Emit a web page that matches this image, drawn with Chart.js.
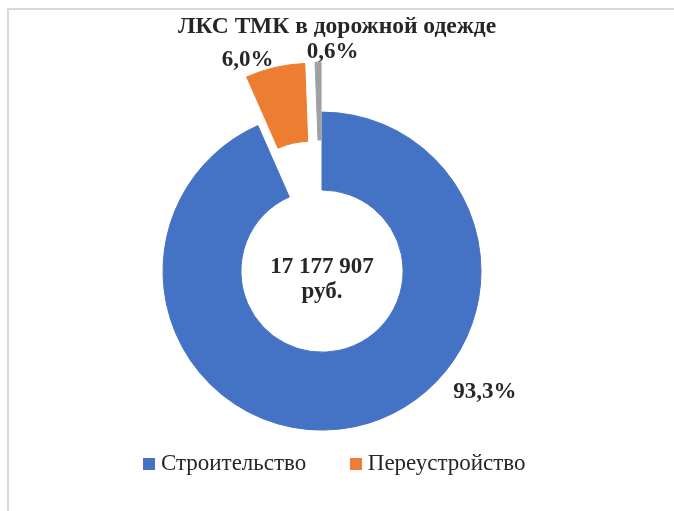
<!DOCTYPE html>
<html lang="ru">
<head>
<meta charset="utf-8">
<title>ЛКС ТМК в дорожной одежде</title>
<script src="https://cdn.jsdelivr.net/npm/chart.js@4.4.1/dist/chart.umd.min.js"></script>
<style>
  html, body { margin: 0; padding: 0; background: #fff; }
  #wrap { position: relative; width: 674px; height: 511px; overflow: hidden; }
  #frame { position: absolute; left: 7px; top: 8px; width: 720px; height: 560px;
           border: 2px solid #d9d9d9; box-sizing: border-box; }
  #lksChart { position: absolute; left: 0; top: 0; }
</style>
</head>
<body>
<div id="wrap">
  <div id="frame"></div>
  <canvas id="lksChart" width="674" height="511"></canvas>
</div>
<script>
// ЛКС ТМК в дорожной одежде, доли в %
var categories = ['Строительство', 'Переустройство', ''];
var shares = [93.3, 6.0, 0.6];
var totalRub = 17177907;

var colours = ['#4472C4', '#ED7D31', '#A0A0A0'];
// how far each slice is pulled out of the ring, px
var explode = [0, 50, 50];
// where the % labels sit: degrees clockwise from 12 o'clock, px from the centre
var labelAngle = [126.6, -19.4, 2.75];
var labelDist = [203, 224, 219];

var serif = '"Liberation Serif", "Times New Roman", serif';
var textColour = '#262626';

function fmtPct(v) {
    return v.toFixed(1).replace('.', ',') + '%';
}
function fmtRub(v) {
    return String(v).replace(/\B(?=(\d{3})+(?!\d))/g, ' ');
}

// small square for the legend; drawn as a point style so the text can sit closer
function swatch(colour) {
    var c = document.createElement('canvas');
    c.width = 12;
    c.height = 12;
    var g = c.getContext('2d');
    g.fillStyle = colour;
    g.fillRect(0, 0, 12, 12);
    return c;
}

// pull the small slices out (moves the whole slice, not just its radius)
var explodeSlices = {
    id: 'explodeSlices',
    beforeDatasetDraw: function(chart, args) {
        args.meta.data.forEach(function(arc, i) {
            arc._home = {x: arc.x, y: arc.y};
            var d = explode[i] || 0;
            if (!d) return;
            var mid = (arc.startAngle + arc.endAngle) / 2;
            arc.x += Math.cos(mid) * d;
            arc.y += Math.sin(mid) * d;
        });
    },
    afterDatasetDraw: function(chart, args) {
        args.meta.data.forEach(function(arc) {
            if (arc._home) {
                arc.x = arc._home.x;
                arc.y = arc._home.y;
            }
        });
    }
};

// empty column on the right so the ring sits left of the page centre
var rightGutter = {
    id: 'rightGutter',
    beforeInit: function(chart) {
        Chart.layouts.addBox(chart, {
            position: 'right', weight: 0, fullSize: false, options: {},
            width: 0, height: 0, left: 0, top: 0, right: 0, bottom: 0,
            isHorizontal: function() { return false; },
            update: function(maxWidth, maxHeight) { this.width = 30; this.height = maxHeight; },
            draw: function() {}
        });
    }
};

// % labels and the total in the hole
var sliceLabels = {
    id: 'sliceLabels',
    afterDatasetsDraw: function(chart) {
        var ctx = chart.ctx;
        var arcs = chart.getDatasetMeta(0).data;
        var cx = arcs[0].x, cy = arcs[0].y;
        ctx.save();
        ctx.font = 'bold 23px ' + serif;
        ctx.fillStyle = textColour;
        ctx.textAlign = 'center';
        ctx.textBaseline = 'middle';
        shares.forEach(function(v, i) {
            var a = (labelAngle[i] - 90) * Math.PI / 180;
            ctx.fillText(fmtPct(v), cx + Math.cos(a) * labelDist[i], cy + Math.sin(a) * labelDist[i]);
        });
        ctx.fillText(fmtRub(totalRub), cx, cy - 4);
        ctx.fillText('руб.', cx, cy + 21);
        ctx.restore();
    }
};

var ctx = document.getElementById('lksChart').getContext('2d');
var chart = new Chart(ctx, {
    type: 'doughnut',
    data: {
        labels: categories,
        datasets: [{
            data: shares,
            backgroundColor: colours,
            borderColor: colours,
            borderWidth: 1,
            clip: false
        }]
    },
    options: {
        responsive: false,
        animation: false,
        radius: 159,
        cutout: '51%',
        layout: { padding: { top: 0, left: 0, right: 0, bottom: 26 } },
        plugins: {
            title: {
                display: true,
                text: 'ЛКС ТМК в дорожной одежде',
                color: textColour,
                font: { family: serif, size: 23.5, weight: 'bold', lineHeight: 1.2 },
                padding: { top: 13, bottom: 98 }
            },
            legend: {
                position: 'bottom',
                labels: {
                    color: textColour,
                    font: { family: serif, size: 23 },
                    usePointStyle: true,
                    pointStyleWidth: 1,
                    boxHeight: 12,
                    padding: 49,
                    generateLabels: function(chart) {
                        var items = Chart.overrides.doughnut.plugins.legend.labels.generateLabels(chart);
                        items.forEach(function(item) { item.pointStyle = swatch(item.fillStyle); });
                        return items;
                    },
                    filter: function(item) { return item.text !== ''; }
                }
            },
            tooltip: { enabled: false }
        }
    },
    plugins: [rightGutter, explodeSlices, sliceLabels]
});
</script>
</body>
</html>
